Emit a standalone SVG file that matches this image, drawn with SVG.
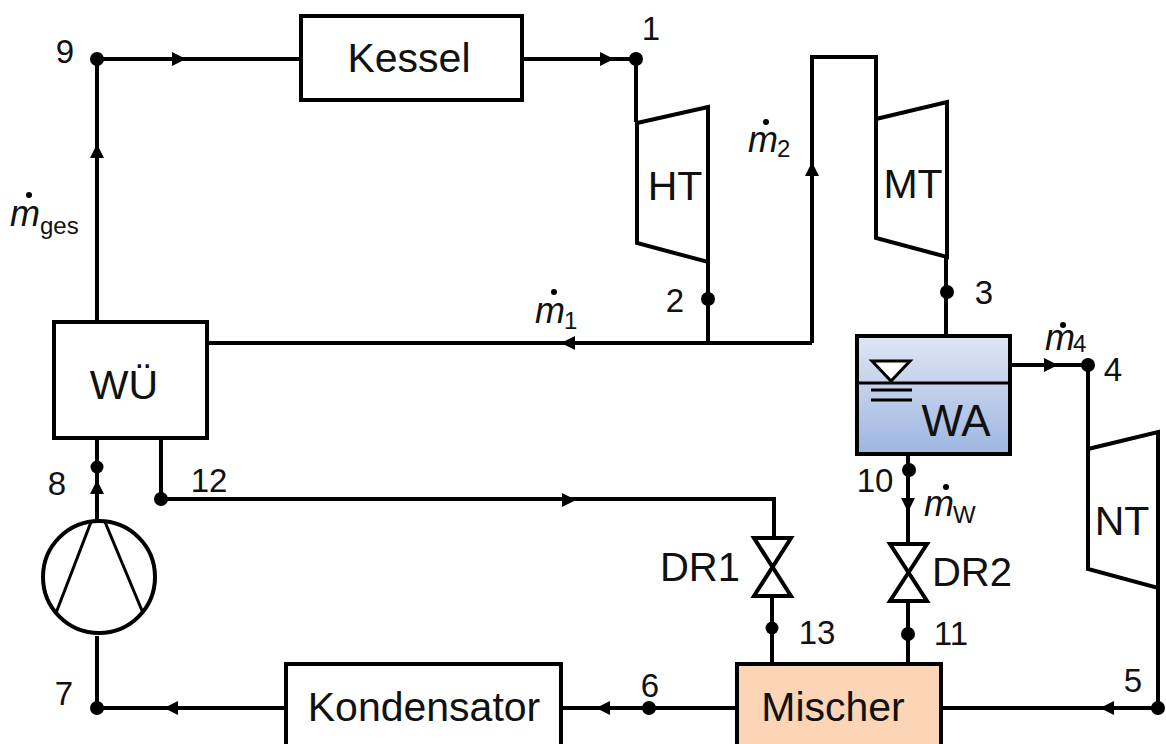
<svg xmlns="http://www.w3.org/2000/svg" width="1166" height="744" viewBox="0 0 1166 744">
<defs>
<linearGradient id="wa" x1="0" y1="0" x2="0" y2="1"><stop offset="0" stop-color="#dfe6f4"/><stop offset="1" stop-color="#9db6e0"/></linearGradient>
</defs>
<style>
text{font-family:"Liberation Sans",Arial,sans-serif;fill:#111;font-size:41px}
.n{font-size:33px}
.d{font-size:40px}
.b{fill:#fff;stroke:#000;stroke-width:4}
.l{fill:none;stroke:#000;stroke-width:4}
.t{fill:none;stroke:#000;stroke-width:3}
.i{font-style:italic;font-size:36px}
.s{font-size:24px}
</style>
<rect width="1166" height="744" fill="#fff"/>
<g id="connectors">
<path class="l" d="M97 322V59H301M522 59H636V122M708 262V341M812 343H209M812 343V57H876V118M946 256V336M1011 365H1088V449M1158 588V708H942M737 708H561M285 708H97V636M97 522V437M161 438V499H774V538M772 596V664M908 454V545M908 600V664"/>
<g fill="#000">
<path d="M172 52l14 7-14 7z"/><path d="M600 52l14 7-14 7z"/>
<path d="M90 158l7-14 7 14z"/><path d="M805 176l7-14 7 14z"/>
<path d="M575 336l-14 7 14 7z"/><path d="M562 493l14 7-14 7z"/>
<path d="M1044 358l14 7-14 7z"/><path d="M901 498l7 14 7-14z"/>
<path d="M1114 701l-14 7 14 7z"/><path d="M610 701l-14 7 14 7z"/><path d="M178 701l-14 7 14 7z"/>
<path d="M90 494l7-14 7 14z"/>
<circle cx="97" cy="59" r="7"/><circle cx="636" cy="59" r="7"/><circle cx="708" cy="299" r="7"/><circle cx="947" cy="292" r="7"/><circle cx="1088" cy="365" r="7"/><circle cx="909" cy="470" r="7"/><circle cx="908" cy="634" r="7"/><circle cx="772" cy="628" r="6.500"/><circle cx="97" cy="467" r="6.500"/><circle cx="161" cy="499" r="7"/><circle cx="1158" cy="708" r="7"/><circle cx="649" cy="708" r="7"/><circle cx="97" cy="708" r="7"/>
</g>
</g>
<g id="kessel"><rect class="b" x="301" y="16" width="221" height="84"/><text x="409" y="72" text-anchor="middle">Kessel</text></g>
<g id="ht"><path class="b" d="M637 123L708 107V262L637 243Z"/><text x="675" y="200" text-anchor="middle">HT</text></g>
<g id="mt"><path class="b" d="M876 119L947 102V257L876 238Z"/><text x="913" y="198" text-anchor="middle">MT</text></g>
<g id="nt"><path class="b" d="M1088 449L1158 432V588L1088 569Z"/><text x="1122" y="535" text-anchor="middle">NT</text></g>
<g id="wue"><rect class="b" x="54" y="322" width="153" height="116"/><text x="124" y="399" text-anchor="middle">WÜ</text></g>
<g id="wa-node"><rect x="857" y="336" width="153" height="118" fill="url(#wa)" stroke="#000" stroke-width="4"/>
<path class="t" stroke-width="4" d="M857 383H1010M871 390H912M871 400H912"/><path d="M872 361H910L891 381Z" fill="#fff" stroke="#000" stroke-width="3"/>
<text x="956" y="436" text-anchor="middle" style="font-size:44px">WA</text></g>
<g id="pump"><circle class="b" cx="99" cy="577" r="56"/><path class="t" d="M91 522L56 613M105 522L143 613"/></g>
<g id="dr1"><path class="b" d="M754 538H791L754 596H791Z"/></g>
<g id="dr2"><path class="b" d="M890 544H927L890 601H927Z"/></g>
<g id="kondensator"><rect class="b" x="286" y="664" width="275" height="90"/><text x="424" y="721" text-anchor="middle">Kondensator</text></g>
<g id="mischer"><rect x="737" y="664" width="204" height="90" fill="#fbd5b5" stroke="#000" stroke-width="4"/><text x="833" y="721" text-anchor="middle">Mischer</text></g>
<g id="labels">
<text class="n" x="651" y="40" text-anchor="middle">1</text>
<text class="n" x="675" y="312" text-anchor="middle">2</text>
<text class="n" x="984" y="304" text-anchor="middle">3</text>
<text class="n" x="1113" y="381" text-anchor="middle">4</text>
<text class="n" x="1133" y="692" text-anchor="middle">5</text>
<text class="n" x="650" y="697" text-anchor="middle">6</text>
<text class="n" x="64" y="705" text-anchor="middle">7</text>
<text class="n" x="57" y="495" text-anchor="middle">8</text>
<text class="n" x="65" y="63" text-anchor="middle">9</text>
<text class="n" x="875" y="492" text-anchor="middle">10</text>
<text class="n" x="951" y="645" text-anchor="middle">11</text>
<text class="n" x="209" y="492" text-anchor="middle">12</text>
<text class="n" x="817" y="644" text-anchor="middle">13</text>
<text class="d" x="700" y="581" text-anchor="middle">DR1</text>
<text class="d" x="972" y="586" text-anchor="middle">DR2</text>
<text class="i" x="10" y="226">m</text><text class="s" x="40" y="234">ges</text><circle cx="29" cy="195" r="3"/>
<text class="i" x="748" y="152">m</text><text class="s" x="777" y="157">2</text><circle cx="766" cy="122" r="3"/>
<text class="i" x="535" y="323">m</text><text class="s" x="564" y="329">1</text><circle cx="554" cy="292" r="3"/>
<text class="i" x="1045" y="350">m</text><text class="s" x="1073" y="352">4</text><circle cx="1063" cy="325" r="3"/>
<text class="i" x="924" y="516">m</text><text class="s" x="953" y="523">W</text><circle cx="946" cy="487" r="3"/>
</g>
</svg>
